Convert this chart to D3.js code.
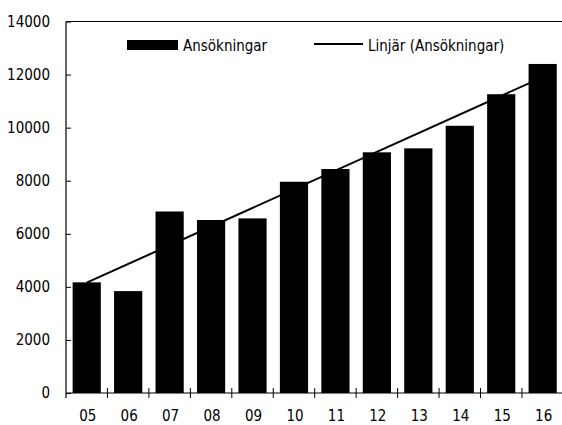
<!DOCTYPE html>
<html>
<head>
<meta charset="utf-8">
<script src="https://cdn.jsdelivr.net/npm/d3@7"></script>
<style>
  html, body { margin: 0; padding: 0; background: #fff; }
  svg { display: block; }
</style>
</head>
<body>
<div id="chart"></div>
<script>
// Data
const categories = ["05", "06", "07", "08", "09", "10", "11", "12", "13", "14", "15", "16"];
const ansokningar = [4170, 3840, 6840, 6520, 6580, 7960, 8440, 9070, 9220, 10070, 11260, 12400];
const yTicks = [0, 2000, 4000, 6000, 8000, 10000, 12000, 14000];
const seriesName = "Ansökningar";
const trendName = "Linjär (Ansökningar)";

const width = 562;
const height = 425;
const font = "'DejaVu Sans Condensed', 'Liberation Sans Narrow', sans-serif";
const fontSize = 15;

const svg = d3.select("#chart")
    .append("svg")
    .attr("width", width)
    .attr("height", height)
    .attr("font-family", font)
    .attr("font-size", fontSize);

const x = d3.scaleBand()
    .domain(categories)
    .range([66, 563.4])
    .paddingInner(0.32)
    .paddingOuter(0.16);

const y = d3.scaleLinear()
    .domain([0, 14000])
    .range([393, 21.5]);

// regression line (linear trend)
const n = ansokningar.length;
const meanX = d3.mean(d3.range(n));
const meanY = d3.mean(ansokningar);
const sxy = d3.sum(ansokningar, (v, i) => (i - meanX) * (v - meanY));
const sxx = d3.sum(d3.range(n), i => (i - meanX) * (i - meanX));
const slope = sxy / sxx;
const intercept = meanY - slope * meanX;

const cx = c => x(c) + x.bandwidth() / 2;

svg.append("line")
    .attr("x1", cx(categories[0]))
    .attr("y1", y(intercept))
    .attr("x2", cx(categories[n - 1]))
    .attr("y2", y(intercept + slope * (n - 1)))
    .attr("stroke", "#000")
    .attr("stroke-width", 2);

// bars on top of trend line
svg.selectAll("rect.bar")
    .data(ansokningar)
    .join("rect")
    .attr("class", "bar")
    .attr("x", (d, i) => x(categories[i]))
    .attr("y", d => y(d))
    .attr("width", x.bandwidth())
    .attr("height", d => y(0) - y(d))
    .attr("fill", "#000");

// y axis, inside ticks
const yAxis = svg.append("g")
    .attr("transform", "translate(66,0)")
    .call(d3.axisLeft(y).tickValues(yTicks).tickSize(-5).tickSizeOuter(0).tickPadding(16).tickFormat(d3.format("d")));
yAxis.select(".domain").remove();
yAxis.selectAll("line").attr("stroke", "#000");
yAxis.selectAll("text").attr("font-family", font).attr("font-size", fontSize).attr("fill", "#000");

// axis frame: left, bottom, top
svg.append("line")
    .attr("x1", 66).attr("x2", 66)
    .attr("y1", y(14000)).attr("y2", y(0) + 5)
    .attr("stroke", "#000").attr("stroke-width", 1.2);
svg.append("line")
    .attr("x1", 66).attr("x2", width)
    .attr("y1", y(0)).attr("y2", y(0))
    .attr("stroke", "#000").attr("stroke-width", 1.2);
svg.append("line")
    .attr("x1", 66).attr("x2", width)
    .attr("y1", y(14000)).attr("y2", y(14000))
    .attr("stroke", "#000").attr("stroke-width", 1.2);

// category boundary ticks crossing the x axis
const boundaries = d3.range(1, n + 1).map(i => x.range()[0] + i * x.step());
svg.selectAll("line.xtick")
    .data(boundaries)
    .join("line")
    .attr("class", "xtick")
    .attr("x1", d => d).attr("x2", d => d)
    .attr("y1", y(0) - 5).attr("y2", y(0) + 5)
    .attr("stroke", "#000");

// category labels
svg.selectAll("text.xlabel")
    .data(categories)
    .join("text")
    .attr("class", "xlabel")
    .attr("x", d => cx(d) + 1)
    .attr("y", 421)
    .attr("text-anchor", "middle")
    .text(d => d);

// legend
const legend = svg.append("g");
legend.append("rect")
    .attr("x", 127).attr("y", 40)
    .attr("width", 51).attr("height", 10)
    .attr("fill", "#000");
legend.append("text")
    .attr("x", 183).attr("y", 50.5)
    .text(seriesName);
legend.append("line")
    .attr("x1", 314).attr("x2", 363)
    .attr("y1", 44).attr("y2", 44)
    .attr("stroke", "#000").attr("stroke-width", 2);
legend.append("text")
    .attr("x", 368).attr("y", 50.5)
    .text(trendName);
</script>
</body>
</html>
